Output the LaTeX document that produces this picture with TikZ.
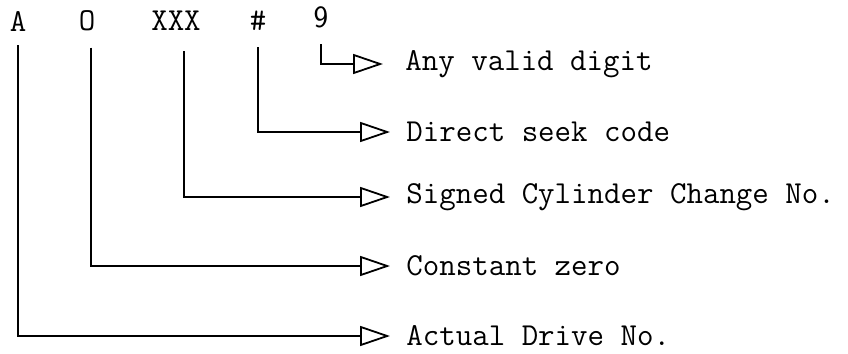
\documentclass[tikz,border=0pt]{standalone}
\usetikzlibrary{arrows.meta}

\tikzset{
    field/.style={inner sep=1pt, font=\fontsize{16pt}{19pt}\ttfamily},
    desc/.style={anchor=west, inner xsep=8pt, inner ysep=1pt, font=\fontsize{16pt}{19pt}\ttfamily},
    lead/.style={line width=0.9pt, -{Triangle[open, length=15pt, width=10pt, line width=0.9pt]}, shorten <=4pt}
}

\begin{document}
\begin{tikzpicture}[x=0.5pt, y=-0.5pt]
    \useasboundingbox (0,0) rectangle (848,354);
    % the code word
    \node[field] (drv) at (18,21) {A};
    \node[field] (zero) at (87,21) {O};
    \node[field] (cyl) at (176,21) {XXX};
    \node[field] (seek) at (258,21) {\#};
    \node[field, font=\fontsize{15.5pt}{18pt}\sffamily] (digit) at (321,17) {9};
    % what each part means
    \node[desc, inner xsep=11pt] (anydigit) at (383,64) {Any valid digit};
    \node[desc] (direct) at (390,132) {Direct seek code};
    \node[desc] (signed) at (390,197) {Signed Cylinder Change No.};
    \node[desc] (constzero) at (390,266) {Constant zero};
    \node[desc] (actual) at (390,336) {Actual Drive No.};
    % leaders
    \draw[lead, shorten <=7pt] (digit.south) |- (anydigit.west);
    \draw[lead, shorten <=7pt] (seek.south) |- (direct.west);
    \draw[lead, shorten <=9pt] ([xshift=4]cyl.south) |- (signed.west);
    \draw[lead, shorten <=7pt] ([xshift=2]zero.south) |- (constzero.west);
    \draw[lead, shorten <=6pt] (drv.south) |- (actual.west);
\end{tikzpicture}
\end{document}
